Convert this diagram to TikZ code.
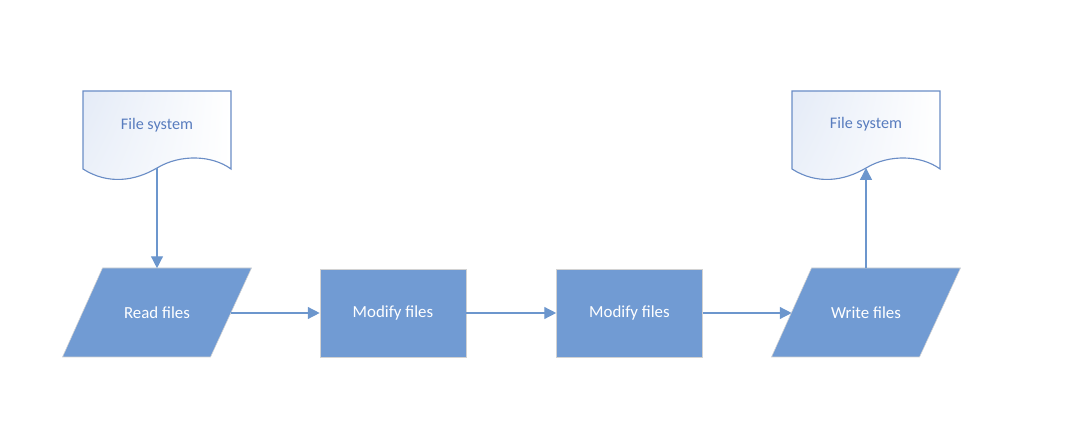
\documentclass[tikz,border=0pt]{standalone}
\usepackage{fontspec}
\setmainfont{Carlito}
\usetikzlibrary{arrows.meta,shadings}

\definecolor{boxblue}{RGB}{113,155,211}
\definecolor{lineblue}{RGB}{108,150,205}
\definecolor{docline}{RGB}{106,141,198}
\definecolor{doctext}{RGB}{88,124,190}
\definecolor{docfill}{RGB}{228,235,247}

\tikzset{
procbox/.style={rectangle, fill=boxblue, draw=gray!35, text=white,
  minimum width=3.65cm, minimum height=2.2cm},
iobox/.style={rectangle, text=white, minimum width=3.7cm, minimum height=2.225cm},
slant/.style={fill=boxblue, draw=gray!35},
flow/.style={draw=lineblue, line width=1pt, -{Triangle[length=8.5pt,width=8.5pt]}}
}

\begin{document}
\begin{tikzpicture}[x=0.025cm,y=0.025cm,font=\fontsize{12}{14}\selectfont]
\useasboundingbox (0,0) rectangle (1077,447);

% file system documents
\foreach \x/\n in {83/fsin,792/fsout}
{
\shade[upper left=docfill, lower left=docfill!70!white, upper right=white, lower right=white,
 draw=docline, line width=0.8pt]
 (\x,356) -- (\x+148,356) -- (\x+148,278)
 .. controls (\x+129,292) and (\x+97,293) .. (\x+74,279)
 .. controls (\x+52,266) and (\x+25,262) .. (\x,278) -- cycle;
\coordinate (\n) at (\x+74,279);
}
\node[text=doctext,font=\fontsize{11.5}{13}\selectfont] (txtin) at (157,322) {File system};
\node[text=doctext,font=\fontsize{11.5}{13}\selectfont] (txtout) at (866,323) {File system};

% processing steps
\foreach \n/\x in {read/157,write/866}
{
\path[slant] (\x-54.5,179) -- (\x+94.5,179) -- (\x+53.5,90) -- (\x-94.5,90) -- cycle;
}
\node[iobox] (read) at (157,134) {Read files};
\node[procbox] (mod1) at (393,134) {Modify files};
\node[procbox] (mod2) at (629.5,134) {Modify files};
\node[iobox] (write) at (866,134) {Write files};

\draw[flow] (fsin) -- (read);
\draw[flow] (read) -- (mod1);
\draw[flow] (mod1) -- (mod2);
\draw[flow] (mod2) -- (write);
\draw[flow] (write) -- (fsout);

\end{tikzpicture}
\end{document}
